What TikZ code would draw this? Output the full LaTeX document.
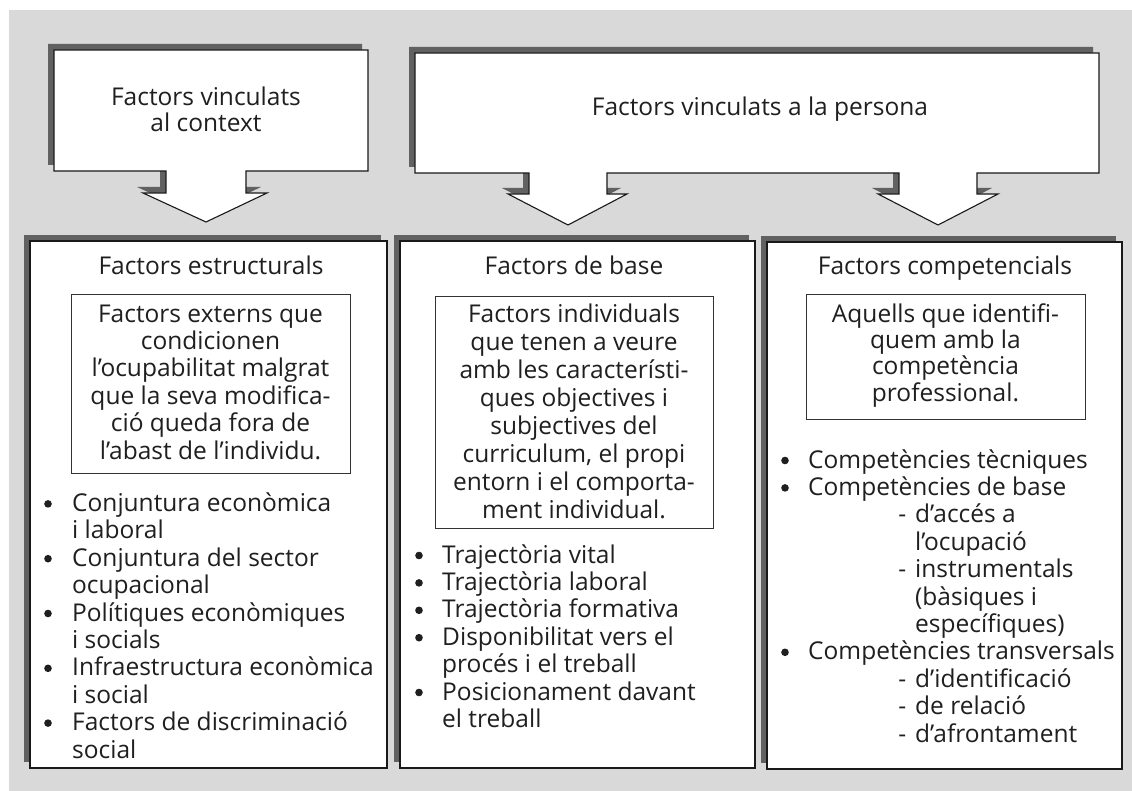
\documentclass[tikz,border=0pt]{standalone}
\usepackage{fontspec}
\setmainfont{Open Sans}
\begin{document}
\begin{tikzpicture}[x=1pt,y=-1pt,
  bgfill/.style={fill=black!15,draw=none},
  shade/.style={fill=black!62,draw=none},
  card/.style={fill=white,draw=black!90,line width=1.1pt,line join=miter},
  inbox/.style={draw=black!80,line width=0.9pt},
  txt/.style={font=\fontsize{24.5}{27.4}\selectfont,inner sep=0pt,text=black!88},
  dot/.style={fill=black!88,draw=none},
]
\def\dsh{\hspace*{107pt}\llap{-\hspace{9pt}}}
\def\ind{\hspace*{107pt}}
\def\pathA{(54,50) -- (368,50) -- (368,171) -- (246,171) -- (246,193) -- (267,193) -- (206,222) -- (143,193) -- (166,193) -- (166,171) -- (54,171) -- cycle}
\def\pathB{(415,53) -- (1099,53) -- (1099,173) -- (977,173) -- (977,194) -- (998,194) -- (938,225) -- (878,194) -- (899,194) -- (899,173) -- (607,173) -- (607,194) -- (627,194) -- (568,225) -- (508,194) -- (529,194) -- (529,173) -- (415,173) -- cycle}
\useasboundingbox (0,0) rectangle (1132,791);
\fill[bgfill] (9,10) rectangle (1132,791);
% top arrow boxes
\begin{scope}[shift={(-6,-6)}]
  \fill[shade] \pathA;
  \fill[shade] \pathB;
\end{scope}
\filldraw[card] \pathA;
\filldraw[card] \pathB;
% bottom boxes
\begin{scope}[shift={(-6,-6)}]
  \fill[shade] (30,241) rectangle (387,768);
  \fill[shade] (400,241) rectangle (755,768);
  \fill[shade] (767,242) rectangle (1122,769);
\end{scope}
\filldraw[card] (30,241) rectangle (387,768);
\filldraw[card] (400,241) rectangle (755,768);
\filldraw[card] (767,242) rectangle (1122,769);
% inner boxes
\draw[inbox] (71,294) rectangle (350,473);
\draw[inbox] (435,296) rectangle (713,528);
\draw[inbox] (806,294) rectangle (1085,419);
% bullets
\foreach \y in {511.4,566.2,621,675.8,730.6} \fill[dot] (48,\y-7.5) circle (3.8);
\foreach \y in {563,590.4,617.8,645.2,700} \fill[dot] (419,\y-7.5) circle (3.8);
\foreach \y in {468,495.4,659.8} \fill[dot] (785,\y-7.5) circle (3.8);
% texts (multi-line nodes: base anchor = last line baseline)
\node[txt,font=\fontsize{24.5}{26}\selectfont,align=center,anchor=base] (tctx) at (206,132) {Factors vinculats\\al context};
\node[txt,anchor=base] (tper) at (760,116) {Factors vinculats a la persona};
\node[txt,anchor=base] (hA) at (211,275) {Factors estructurals};
\node[txt,anchor=base] (hB) at (574,275) {Factors de base};
\node[txt,anchor=base] (hC) at (945,275) {Factors competencials};
\node[txt,align=center,anchor=base] (iA) at (210.5,459) {Factors externs que\\condicionen\\l’ocupabilitat malgrat\\que la seva modifica-\\ció queda fora de\\l’abast de l’individu.};
\node[txt,font=\fontsize{24.5}{28}\selectfont,align=center,anchor=base] (iB) at (574,518) {Factors individuals\\que tenen a veure\\amb les característi-\\ques objectives i\\subjectives del\\curriculum, el propi\\entorn i el comporta-\\ment individual.};
\node[txt,font=\fontsize{24.5}{26.3}\selectfont,align=center,anchor=base] (iC) at (945.5,401) {Aquells que identifi-\\quem amb la\\competència\\professional.};
\node[txt,align=left,anchor=base west] (lA) at (72,758) {Conjuntura econòmica\\i laboral\\Conjuntura del sector\\ocupacional\\Polítiques econòmiques\\i socials\\Infraestructura econòmica\\i social\\Factors de discriminació\\social};
\node[txt,align=left,anchor=base west] (lB) at (442,727.4) {Trajectòria vital\\Trajectòria laboral\\Trajectòria formativa\\Disponibilitat vers el\\procés i el treball\\Posicionament davant\\el treball};
\node[txt,align=left,anchor=base west] (lC) at (808,742) {Competències tècniques\\Competències de base\\\dsh d’accés a\\\ind l’ocupació\\\dsh instrumentals\\\ind (bàsiques i\\\ind específiques)\\Competències transversals\\\dsh d’identificació\\\dsh de relació\\\dsh d’afrontament};
\end{tikzpicture}
\end{document}
